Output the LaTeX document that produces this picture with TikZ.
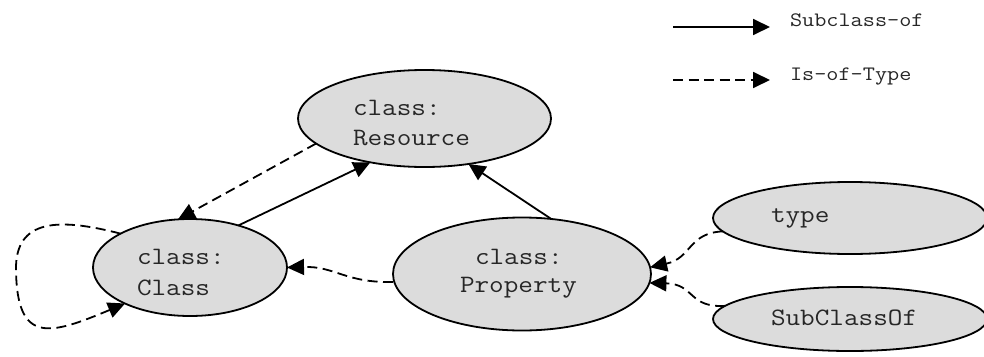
\documentclass[tikz,border=0pt]{standalone}
\usepackage{fontspec}
\newfontfamily\cour[FakeStretch=1.135]{Latin Modern Mono}
\newfontfamily\courl[FakeStretch=1.15]{Latin Modern Mono}
\usetikzlibrary{arrows.meta,shapes.geometric}
\definecolor{ellfill}{RGB}{220,220,220}
\begin{document}
\begin{tikzpicture}[x=1pt,y=-1pt,
  ell/.style={ellipse,draw=black,line width=1.8pt,fill=ellfill,inner sep=0pt,outer sep=0pt},
  txt/.style={inner sep=0pt,outer sep=0pt,font=\cour\fontsize{25}{30}\selectfont,text=black!85,anchor=base west},
  lgd/.style={inner sep=0pt,outer sep=0pt,font=\courl\fontsize{20.5}{24}\selectfont,text=black!85,anchor=base west},
  conn/.style={line width=1.8pt,-{Triangle[length=17pt,width=16pt]}},
  isof/.style={conn,dash pattern=on 10pt off 5.5pt}
]
\useasboundingbox (0,0) rectangle (984,356);

% ellipses
\node[ell,minimum width=253pt,minimum height=97pt] (res) at (424.5,118.5) {};
\node[ell,minimum width=194pt,minimum height=97pt] (cls) at (190,267.5) {};
\node[ell,minimum width=258pt,minimum height=113pt] (prop) at (522,274) {};
\node[ell,minimum width=274pt,minimum height=72pt] (typ) at (850,218) {};
\node[ell,minimum width=274pt,minimum height=64pt] (sco) at (850,319) {};

% texts
\node[txt] (resT1) at (353,115) {class:};
\node[txt] (resT2) at (353,145) {Resource};
\node[txt] (clsT1) at (137,264) {class:};
\node[txt] (clsT2) at (137,295) {Class};
\node[txt] (propT1) at (475,264) {class:};
\node[txt] (propT2) at (460,292) {Property};
\node[txt] (typT) at (771,222) {type};
\node[txt] (scoT) at (771,325) {SubClassOf};

% connectors
\draw[isof] (res.193) -- (cls.104);
\draw[conn] (cls.41) -- (res.219);
\draw[conn] (prop.62) -- (res.314);
\draw[isof] (prop.west |- 0,282) .. controls (345,283) and (335,266) .. (cls.east);
\draw[isof] (cls.154) .. controls (60,218) and (15,218) .. (16,270)
  .. controls (17,345) and (50,335) .. (cls.209);
\draw[isof] (typ.186.7) .. controls (688,233) and (692,258) .. (prop.3.5);
\draw[isof] (sco.174) .. controls (688,308) and (695,284) .. (prop.-4);

% legend
\coordinate (l1a) at (673,27);
\coordinate (l1b) at (770,27);
\coordinate (l2a) at (673,80);
\coordinate (l2b) at (770,80);
\draw[conn] (l1a) -- (l1b);
\draw[isof] (l2a) -- (l2b);
\node[lgd] (lg1) at (790,26) {Subclass-of};
\node[lgd] (lg2) at (790,80) {Is-of-Type};
\end{tikzpicture}
\end{document}
